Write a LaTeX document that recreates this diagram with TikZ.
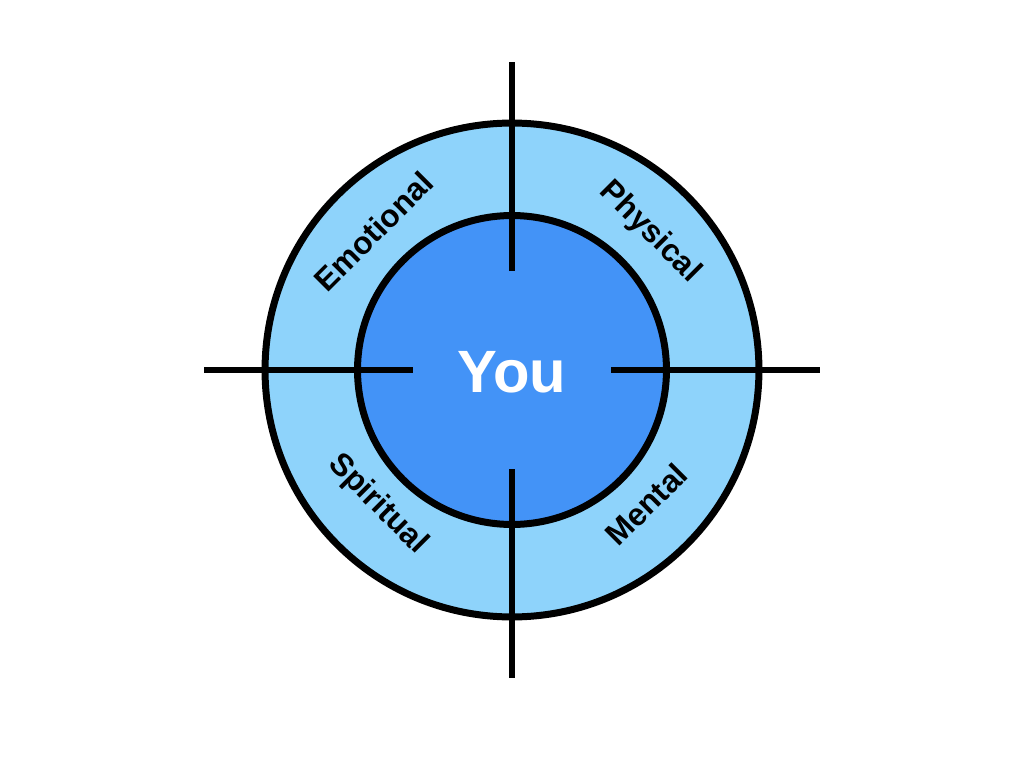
\documentclass[tikz,border=0pt]{standalone}
\usepackage{fontspec}
\setmainfont{Liberation Sans}
\usepackage{tikz}
\usetikzlibrary{positioning}
\definecolor{ringblue}{RGB}{142,211,251}
\definecolor{coreblue}{RGB}{67,147,247}
\tikzset{
    ring/.style={circle, draw=black, line width=3.98pt, inner sep=0pt},
    area/.style={font=\bfseries\fontsize{18}{18}\selectfont, inner sep=0pt},
    crossbar/.style={line width=3.98pt}
}

\begin{document}
\begin{tikzpicture}[x=0.02cm, y=0.02cm]
    \useasboundingbox (-512,-398) rectangle (512,370);

    % Rings
    \node[ring, fill=ringblue, minimum size=9.88cm] (outer) at (0,0) {};
    \node[ring, fill=coreblue, minimum size=6.18cm] (inner) at (0,0) {};

    % Cross
    \foreach \a/\n in {90/top, 0/right, 270/bottom, 180/left} {
        \coordinate (\n-in) at (\a:99);
        \coordinate (\n-out) at (\a:308);
        \draw[crossbar] (\n-in) -- (\n-out);
    }

    % Labels
    \node[font=\bfseries\fontsize{34}{34}\selectfont, text=white] (you) at (0,-2) {You};
    \node[area, rotate=45] (emotional) at (135:196) {Emotional};
    \node[area, rotate=-45] (physical) at (45:195) {Physical};
    \node[area, rotate=-45] (spiritual) at (225:190) {Spiritual};
    \node[area, rotate=45] (mental) at (315:190) {Mental};
\end{tikzpicture}
\end{document}
